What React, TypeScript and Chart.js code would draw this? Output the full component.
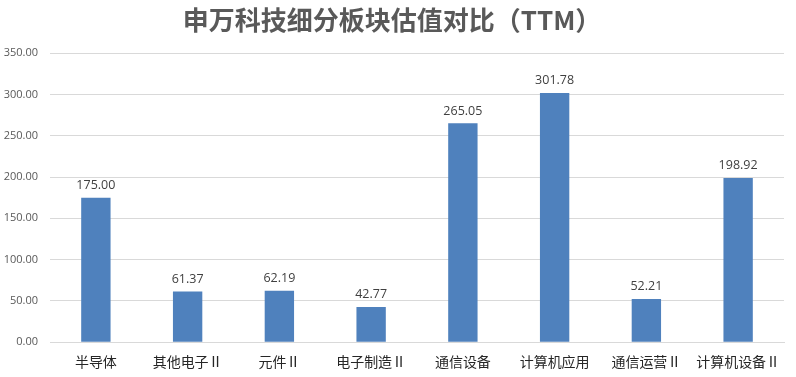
import React, { useEffect, useRef } from "react";
import { Chart, registerables } from "chart.js";

Chart.register(...registerables);

const categories = ["半导体", "其他电子Ⅱ", "元件Ⅱ", "电子制造Ⅱ", "通信设备", "计算机应用", "通信运营Ⅱ", "计算机设备Ⅱ"];
const values = [175.0, 61.37, 62.19, 42.77, 265.05, 301.78, 52.21, 198.92];
const yTicks = [0, 50, 100, 150, 200, 250, 300, 350];
const titleText = "申万科技细分板块估值对比（TTM）";

const valueLabels = {
  id: "valueLabels",
  afterDatasetsDraw(chart: any) {
    const ctx = chart.ctx;
    const meta = chart.getDatasetMeta(0);
    ctx.save();
    ctx.font = "12.5px 'Open Sans', 'Noto Sans', sans-serif";
    ctx.fillStyle = "#404040";
    ctx.textAlign = "center";
    ctx.textBaseline = "bottom";
    meta.data.forEach((el: any, i: number) => {
      ctx.fillText(values[i].toFixed(2), el.x, el.y - 6);
    });
    ctx.restore();
  },
};

export default function App() {
  const ref = useRef<HTMLCanvasElement>(null);
  useEffect(() => {
    if (!ref.current) return;
    const chart = new Chart(ref.current, {
      type: "bar",
      data: {
        labels: categories,
        datasets: [
          {
            data: values,
            backgroundColor: "#4f81bd",
            borderWidth: 0,
            barPercentage: 0.64,
            categoryPercentage: 0.5,
          },
        ],
      },
      options: {
        animation: false,
        responsive: true,
        maintainAspectRatio: false,
        layout: { padding: { left: 0, right: 12, top: 0, bottom: 4 } },
        plugins: {
          legend: { display: false },
          tooltip: { enabled: false },
          title: {
            display: true,
            text: titleText,
            color: "#595959",
            font: { size: 26, weight: "bold", family: "'Noto Sans CJK SC', sans-serif" },
            padding: { top: 5, bottom: 17 },
          },
        },
        scales: {
          x: {
            grid: { display: false },
            border: { color: "#d9d9d9" },
            ticks: {
              color: "#262626",
              font: { size: 14, family: "'Noto Sans CJK SC', sans-serif" },
              maxRotation: 0,
              autoSkip: false,
              padding: 3,
            },
          },
          y: {
            min: 0,
            max: 350,
            afterBuildTicks(axis: any) {
              axis.ticks = yTicks.map((v) => ({ value: v }));
            },
            afterFit(axis: any) {
              axis.width = 50;
            },
            grid: { color: "#d9d9d9", drawTicks: false },
            border: { display: false },
            ticks: {
              color: "#595959",
              font: { size: 11, family: "'Open Sans', 'Noto Sans', sans-serif" },
              padding: 12,
              callback: (v: any) => Number(v).toFixed(2),
            },
          },
        },
      },
      plugins: [valueLabels],
    });
    return () => chart.destroy();
  }, []);
  return (
    <div style={{ position: "fixed", left: 0, top: 0, width: 796, height: 377, background: "#fff" }}>
      <canvas ref={ref} />
    </div>
  );
}
